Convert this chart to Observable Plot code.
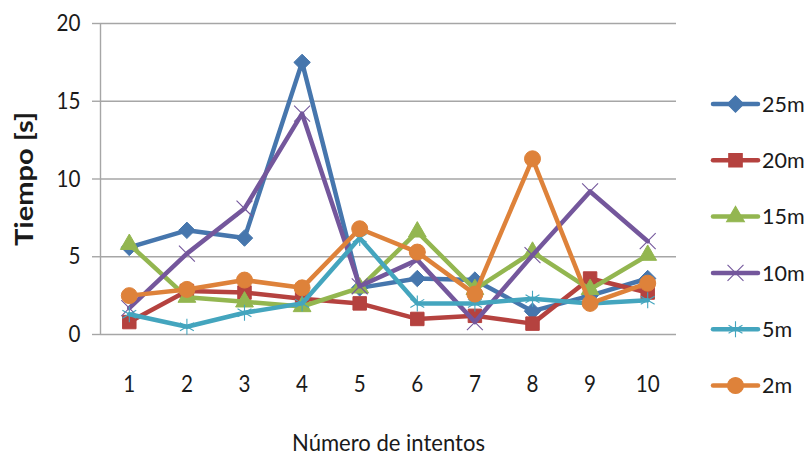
<!DOCTYPE html>
<html>
<head>
<meta charset="utf-8">
<script src="https://cdn.jsdelivr.net/npm/d3@7"></script>
<script src="https://cdn.jsdelivr.net/npm/@observablehq/plot@0.6"></script>
<style>
  html, body { margin: 0; padding: 0; background: #fff; }
  #wrap { position: relative; width: 809px; height: 457px; font-family: Lato, "Open Sans", sans-serif; }
  #legend { position: absolute; left: 0; top: 0; }
</style>
</head>
<body>
<div id="wrap"></div>
<script>
// ---- data ----
const intentos = [1, 2, 3, 4, 5, 6, 7, 8, 9, 10];
const series = ["25m", "20m", "15m", "10m", "5m", "2m"];
const yTicks = [0, 5, 10, 15, 20];
const t25 = [5.6, 6.7, 6.2, 17.5, 3.0, 3.6, 3.5, 1.5, 2.5, 3.6];
const t20 = [0.8, 2.8, 2.7, 2.3, 2.0, 1.0, 1.2, 0.7, 3.6, 2.7];
const t15 = [5.8, 2.4, 2.1, 1.8, 3.0, 6.6, 2.9, 5.3, 2.9, 5.1];
const t10 = [1.7, 5.2, 8.1, 14.2, 3.1, 4.8, 0.8, 5.1, 9.2, 6.0];
const t5  = [1.3, 0.5, 1.4, 2.0, 6.2, 2.0, 2.0, 2.3, 2.0, 2.2];
const t2  = [2.5, 2.9, 3.5, 3.0, 6.8, 5.3, 2.6, 11.3, 2.0, 3.3];

// ---- styles ----
const colors  = ["#4676AD", "#B5423F", "#93B650", "#74579C", "#44A5BE", "#DE823A"];
const symbols = ["diamond2", "square", "triangle", "times", "asterisk", "circle"];
const radii   = [7.4, 7.6, 6.6, 7.3, 7.6, 8];
const filled  = [true, true, true, false, false, true];
const FONT = 'Lato, "Open Sans", sans-serif';

const values = [t25, t20, t15, t10, t5, t2];
const data = [];
series.forEach((s, i) => values[i].forEach((v, j) => data.push({serie: s, intento: intentos[j], tiempo: v})));

const seriesMarks = [];
series.forEach((s, i) => {
  const d = data.filter(r => r.serie === s);
  seriesMarks.push(Plot.line(d, {x: "intento", y: "tiempo", stroke: colors[i], strokeWidth: 4.5, strokeLinejoin: "round", strokeLinecap: "round"}));
  seriesMarks.push(Plot.dot(d, {
    x: "intento", y: "tiempo", symbol: symbols[i], r: radii[i],
    fill: filled[i] ? colors[i] : "none", stroke: colors[i], strokeWidth: filled[i] ? 1 : 1.1
  }));
});

const chart = Plot.plot({
  width: 809, height: 457,
  marginTop: 23, marginBottom: 123, marginLeft: 100, marginRight: 133,
  style: {fontFamily: FONT, background: "#fff"},
  x: {domain: [0.5, 10.5]},
  y: {domain: [0, 20]},
  marks: [
    Plot.ruleY(yTicks, {stroke: "#a6a6a6", strokeWidth: 1.4}),
    Plot.ruleX([0.5], {stroke: "#a6a6a6", strokeWidth: 1.4}),
    Plot.axisY({ticks: yTicks, tickSize: 8, tickPadding: 12, stroke: "#a6a6a6", strokeWidth: 1.4, strokeOpacity: 1, fill: "#1a1a1a",
      fontSize: 24, label: "Tiempo [s]", labelAnchor: "center", labelOffset: 85, labelArrow: "none"}),
    Plot.axisX({ticks: intentos, tickSize: 0, tickPadding: 40, fill: "#1a1a1a", fontSize: 24, tickFormat: d => String(d),
      label: "Número de intentos", labelAnchor: "center", labelOffset: 116, labelArrow: "none"}),
    ...seriesMarks
  ]
});
document.getElementById("wrap").appendChild(chart);

// narrow, tall lettering like the original
function squeeze(sel, factor) {
  sel.each(function() {
    const w = this.getComputedTextLength();
    if (w > 0) this.setAttribute("textLength", w * factor), this.setAttribute("lengthAdjust", "spacingAndGlyphs");
  });
}
const allText = d3.select(chart).selectAll("text");
allText.filter(function() { return this.textContent.includes("Tiempo"); })
  .attr("font-weight", "bold").attr("font-size", 25).attr("textLength", 134).attr("lengthAdjust", "spacingAndGlyphs");
allText.filter(function() { return this.textContent.includes("Número"); })
  .attr("font-size", 24).attr("textLength", 193).attr("lengthAdjust", "spacingAndGlyphs");
squeeze(allText.filter(function() { return /^\d+$/.test(this.textContent); }), 0.86);

// ---- legend ----
const symMap = {diamond2: d3.symbolDiamond2, square: d3.symbolSquare, triangle: d3.symbolTriangle, times: d3.symbolTimes, asterisk: d3.symbolAsterisk, circle: d3.symbolCircle};
const lg = d3.select("#wrap").append("svg").attr("id", "legend").attr("width", 809).attr("height", 457)
  .style("font-family", FONT);
series.forEach((s, i) => {
  const y = 104 + i * 56.3;
  const g = lg.append("g").attr("transform", `translate(0,${y})`);
  g.append("line").attr("x1", 713).attr("x2", 758).attr("y1", 0).attr("y2", 0)
    .attr("stroke", colors[i]).attr("stroke-width", 4.5).attr("stroke-linecap", "round");
  g.append("path").attr("transform", "translate(735.5,0)")
    .attr("d", d3.symbol(symMap[symbols[i]], Math.PI * radii[i] * radii[i])())
    .attr("fill", filled[i] ? colors[i] : "none").attr("stroke", colors[i]).attr("stroke-width", 1.1);
  g.append("text").attr("x", 762).attr("y", 0).attr("dy", "0.36em").attr("font-size", 21.5)
    .attr("fill", "#1a1a1a").text(s);
});
</script>
</body>
</html>
